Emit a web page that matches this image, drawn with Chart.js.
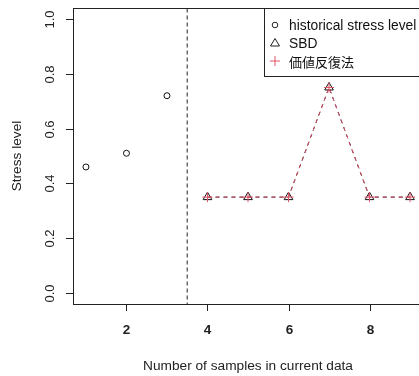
<!DOCTYPE html>
<html><head><meta charset="utf-8">
<script src="https://cdn.jsdelivr.net/npm/chart.js@4"></script>
<style>
html,body{margin:0;padding:0;background:#fff;overflow:hidden;}
#wrap{width:419px;height:376px;overflow:hidden;position:relative;}
canvas{display:block;}
</style></head>
<body>
<div id="wrap"><canvas id="c" width="432" height="376"></canvas></div>
<script>
// ---- data ----
const histX = [1, 2, 3];
const histY = [0.46, 0.51, 0.72];
const curX = [4, 5, 6, 7, 8, 9];
const sbdY = [0.35, 0.35, 0.35, 0.75, 0.35, 0.35];
const viY = [0.35, 0.35, 0.35, 0.75, 0.35, 0.35];
const seriesNames = ["historical stress level", "SBD", "価値反復法"];
const splitX = 3.5;
const xTicks = [2, 4, 6, 8];
const yTicks = [0.0, 0.2, 0.4, 0.6, 0.8, 1.0];
const xTitle = "Number of samples in current data";
const yTitle = "Stress level";

const RED = "#DF536B";
const FONT = "'Liberation Sans', Arial, sans-serif";

const pts = (xs, ys) => xs.map((x, i) => ({x: x, y: ys[i]}));

const decor = {
  id: 'decor',
  afterDraw(chart) {
    const ctx = chart.ctx, ca = chart.chartArea;
    const xs = chart.scales.x, ys = chart.scales.y;
    ctx.save();
    // box
    ctx.strokeStyle = '#222';
    ctx.lineWidth = 1;
    ctx.setLineDash([]);
    ctx.strokeRect(Math.round(ca.left) + 0.5, Math.round(ca.top) + 0.5,
                   Math.round(ca.right - ca.left), Math.round(ca.bottom - ca.top));
    // y axis ticks + labels
    ctx.fillStyle = '#222';
    ctx.font = '13px ' + FONT;
    ctx.textAlign = 'center';
    ctx.textBaseline = 'middle';
    yTicks.forEach(v => {
      const py = Math.round(ys.getPixelForValue(v)) + 0.5;
      ctx.beginPath();
      ctx.moveTo(ca.left - 7, py); ctx.lineTo(ca.left, py); ctx.stroke();
      ctx.save();
      ctx.translate(ca.left - 23, py);
      ctx.rotate(-Math.PI / 2);
      ctx.fillText(v.toFixed(1), 0, 0);
      ctx.restore();
    });
    // x axis ticks + labels
    ctx.font = 'bold 13.5px ' + FONT;
    xTicks.forEach(v => {
      const px = Math.round(xs.getPixelForValue(v)) + 0.5;
      ctx.beginPath();
      ctx.moveTo(px, ca.bottom); ctx.lineTo(px, ca.bottom + 7); ctx.stroke();
      ctx.fillText(String(v), px, ca.bottom + 26);
    });
    // titles
    ctx.font = '13.7px ' + FONT;
    ctx.fillText(xTitle, (ca.left + ca.right) / 2, 366);
    ctx.save();
    ctx.translate(17, (ca.top + ca.bottom) / 2);
    ctx.rotate(-Math.PI / 2);
    ctx.fillText(yTitle, 0, 0);
    ctx.restore();
    // legend
    const lx = 264.5, ly = Math.round(ca.top) + 0.5, lw = 200, lh = 68;
    ctx.fillStyle = '#fff';
    ctx.fillRect(lx, ly, lw, lh);
    ctx.strokeStyle = '#222';
    ctx.strokeRect(lx, ly, lw, lh);
    const rows = [25, 43, 61];
    const mx = 275;
    ctx.textAlign = 'left';
    ctx.fillStyle = '#111';
    // circle
    ctx.lineWidth = 1;
    ctx.beginPath(); ctx.arc(mx, rows[0], 2.8, 0, Math.PI * 2); ctx.stroke();
    // triangle
    ctx.beginPath();
    ctx.moveTo(mx, rows[1] - 4.5); ctx.lineTo(mx + 4.5, rows[1] + 3); ctx.lineTo(mx - 4.5, rows[1] + 3); ctx.closePath(); ctx.stroke();
    // plus
    ctx.strokeStyle = RED;
    ctx.beginPath();
    ctx.moveTo(mx - 5, rows[2]); ctx.lineTo(mx + 5, rows[2]);
    ctx.moveTo(mx, rows[2] - 5); ctx.lineTo(mx, rows[2] + 5); ctx.stroke();
    ctx.font = '13.8px ' + FONT;
    ctx.fillText(seriesNames[0], 289, rows[0] + 1);
    ctx.fillText(seriesNames[1], 289, rows[1] + 1);
    ctx.font = "13px 'Noto Sans CJK JP', " + FONT;
    ctx.fillText(seriesNames[2], 289, rows[2] + 1);
    ctx.restore();
  }
};

new Chart(document.getElementById('c'), {
  type: 'scatter',
  data: {
    datasets: [
      {
        label: 'split',
        data: [{x: splitX, y: -0.1}, {x: splitX, y: 1.1}],
        showLine: true, borderColor: '#555', borderWidth: 1.3, borderDash: [4, 3],
        pointRadius: 0, order: 5
      },
      {
        label: seriesNames[0],
        data: pts(histX, histY),
        showLine: false, pointStyle: 'circle', pointRadius: 3,
        borderColor: '#111', backgroundColor: 'rgba(0,0,0,0)', pointBorderWidth: 1
      },
      {
        label: seriesNames[1],
        data: pts(curX, sbdY),
        showLine: true, borderColor: '#111', borderWidth: 1, borderDash: [4, 4],
        pointStyle: 'triangle', pointRadius: 5, pointBorderColor: '#111',
        pointBackgroundColor: 'rgba(0,0,0,0)', pointBorderWidth: 1, order: 3
      },
      {
        label: seriesNames[2],
        data: pts(curX, viY),
        showLine: true, borderColor: RED, borderWidth: 1, borderDash: [4, 4],
        pointStyle: 'cross', pointRadius: 5, pointBorderColor: RED,
        pointBackgroundColor: 'rgba(0,0,0,0)', pointBorderWidth: 1, order: 1
      }
    ]
  },
  options: {
    responsive: false,
    animation: false,
    devicePixelRatio: 1,
    layout: {padding: {left: 73, top: 8, right: 432 - 423, bottom: 376 - 304}},
    plugins: {legend: {display: false}, tooltip: {enabled: false}},
    scales: {
      x: {type: 'linear', min: 0.68, max: 9.32, display: false},
      y: {type: 'linear', min: -0.04, max: 1.04, display: false}
    }
  },
  plugins: [decor]
});
</script>
</body></html>
